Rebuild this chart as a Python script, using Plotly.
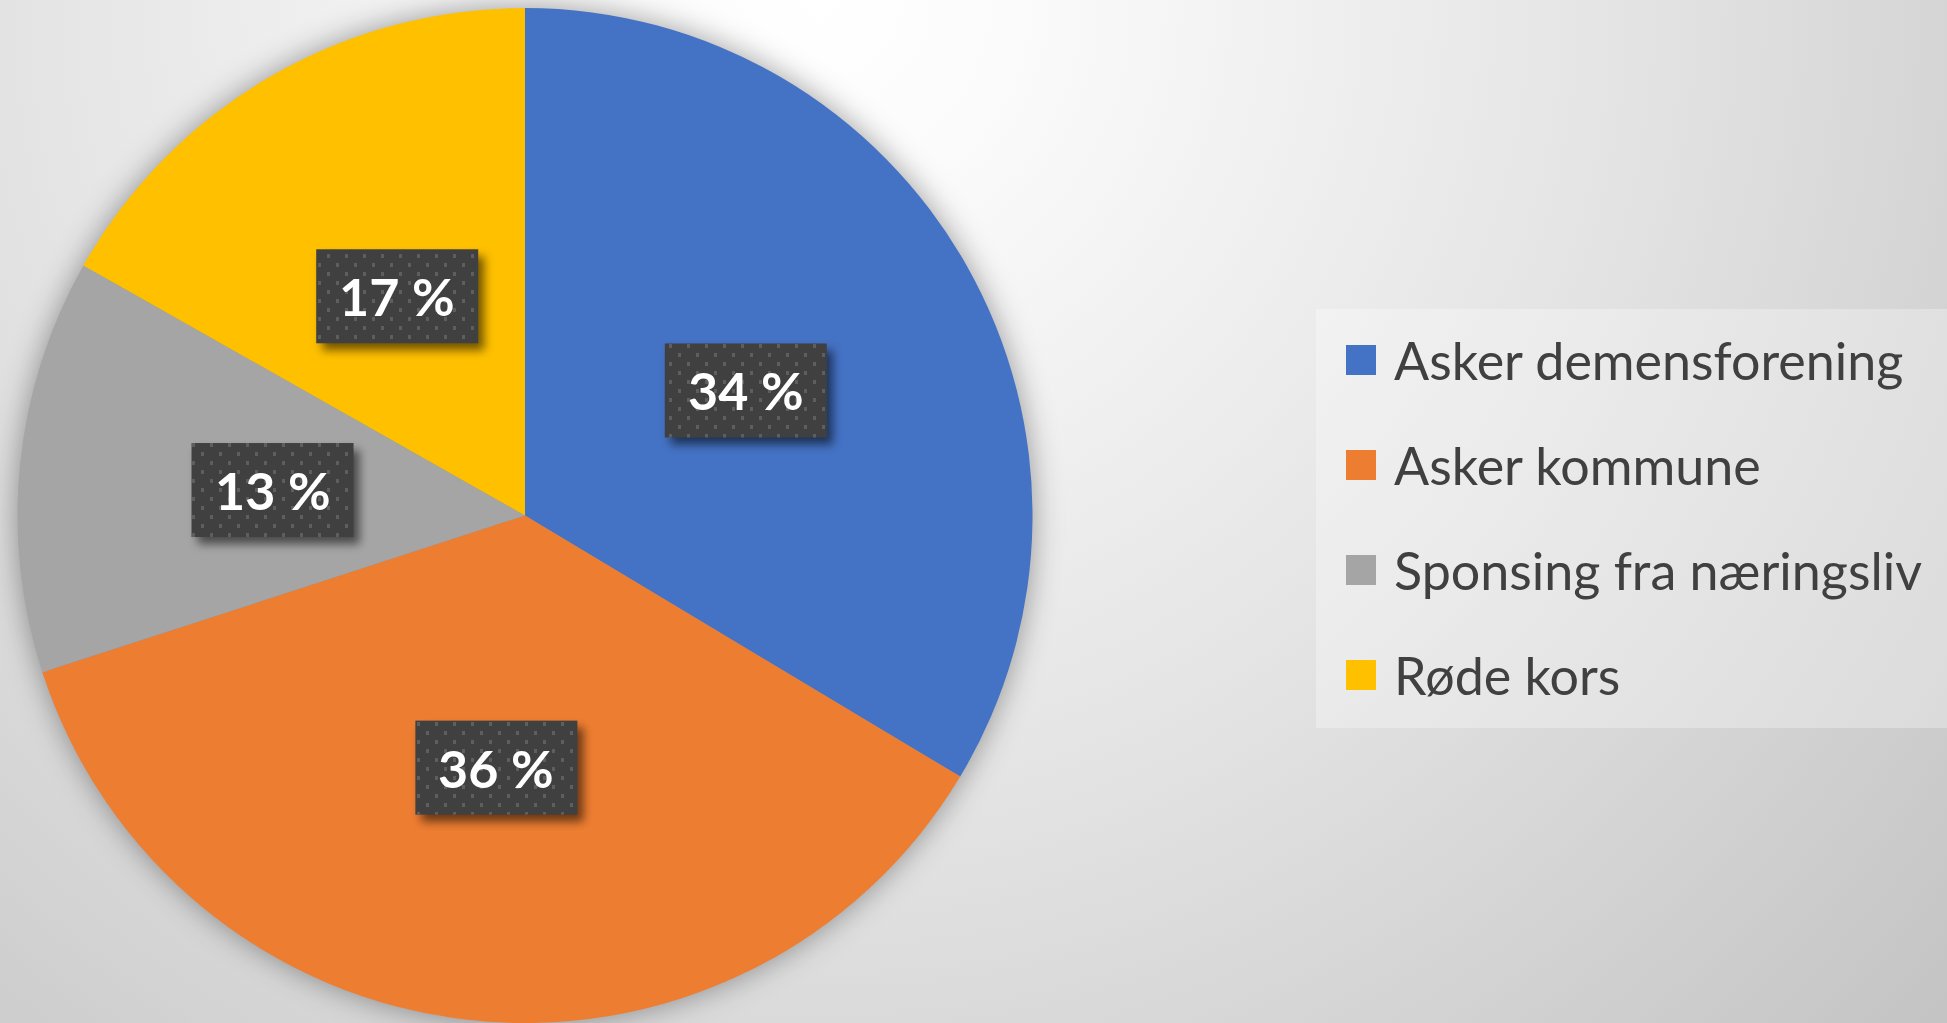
import base64
import math
import plotly.graph_objects as go

# ---- data ----
labels = ["Asker demensforening", "Asker kommune", "Sponsing fra næringsliv", "Røde kors"]
values = [33.6, 36.4, 13.2, 16.8]
colors = ["#4472C4", "#ED7D31", "#A5A5A5", "#FFC000"]

# ---- layout constants ----
W, H = 1947, 1023
TOP = 8
PIE_W = 1050
R = min(PIE_W, H - TOP) / 2.0
CX = PIE_W / 2.0
CY = TOP + R
BOX_W, BOX_H = 162, 94
LEG_X0, LEG_Y0, LEG_X1, LEG_Y1 = 1316, 309, 1947, 728
LEG_SQ_X, LEG_SQ = 1346, 30
LEG_TXT_X = 1392
LEG_Y_FIRST, LEG_STEP = 360, 105

total = sum(values)
pct_text = [f"{round(v / total * 100)} %" for v in values]

# label centres (pixels) at half radius on slice mid-angle, clockwise from 12 o'clock
label_px = []
cum = 0.0
for v in values:
    mid = (cum + v / 2.0) / total
    th = 2 * math.pi * mid
    label_px.append((CX + 0.5 * R * math.sin(th), CY - 0.5 * R * math.cos(th)))
    cum += v


def svg_uri(svg):
    return "data:image/svg+xml;base64," + base64.b64encode(svg.encode("utf-8")).decode("ascii")


bg_svg = f"""<svg xmlns='http://www.w3.org/2000/svg' width='{W}' height='{H}' viewBox='0 0 {W} {H}'>
<defs>
<radialGradient id='bg' gradientUnits='userSpaceOnUse' cx='820' cy='0' r='1600'>
<stop offset='0' stop-color='#ffffff'/>
<stop offset='0.12' stop-color='#fbfbfb'/>
<stop offset='0.5' stop-color='#e4e4e4'/>
<stop offset='1' stop-color='#c0c0c0'/>
</radialGradient>
<filter id='blur' x='-20%' y='-20%' width='140%' height='140%'><feGaussianBlur stdDeviation='15'/></filter>
</defs>
<rect x='0' y='0' width='{W}' height='{H}' fill='url(#bg)'/>
<circle cx='{CX}' cy='{CY}' r='{R}' fill='#000000' fill-opacity='0.38' filter='url(#blur)'/>
<rect x='{LEG_X0}' y='{LEG_Y0}' width='{LEG_X1 - LEG_X0}' height='{LEG_Y1 - LEG_Y0}' fill='#ffffff' fill-opacity='0.3'/>
</svg>"""

boxes = ""
for (lx, ly) in label_px:
    x0, y0 = lx - BOX_W / 2, ly - BOX_H / 2
    boxes += (f"<rect x='{x0 + 6}' y='{y0 + 7}' width='{BOX_W}' height='{BOX_H}' fill='#000' fill-opacity='0.55' filter='url(#sh)'/>"
              f"<rect x='{x0}' y='{y0}' width='{BOX_W}' height='{BOX_H}' fill='#404040'/>"
              f"<rect x='{x0}' y='{y0}' width='{BOX_W}' height='{BOX_H}' fill='url(#dots)'/>")

fg_svg = f"""<svg xmlns='http://www.w3.org/2000/svg' width='{W}' height='{H}' viewBox='0 0 {W} {H}'>
<defs>
<pattern id='dots' patternUnits='userSpaceOnUse' width='18' height='18'>
<rect x='3' y='2' width='3' height='4' fill='#5e5e5e'/>
<rect x='12' y='11' width='3' height='4' fill='#5e5e5e'/>
</pattern>
<filter id='sh' x='-30%' y='-30%' width='160%' height='160%'><feGaussianBlur stdDeviation='5'/></filter>
</defs>
{boxes}
</svg>"""

fig = go.Figure(go.Pie(
    labels=labels,
    values=values,
    sort=False,
    direction="clockwise",
    rotation=0,
    marker=dict(colors=colors, line=dict(width=0)),
    textinfo="none",
    hoverinfo="label+percent",
    showlegend=False,
    domain=dict(x=[0, PIE_W / W], y=[0, 1 - TOP / H]),
))

annotations = []
for (lx, ly), t in zip(label_px, pct_text):
    annotations.append(dict(
        x=lx / W, y=1 - ly / H, xref="paper", yref="paper",
        xanchor="center", yanchor="middle", showarrow=False,
        text=f"<b>{t}</b>",
        font=dict(family="Lato", size=52, color="#ffffff"),
    ))

shapes = []
for i, (lab, col) in enumerate(zip(labels, colors)):
    yc = LEG_Y_FIRST + LEG_STEP * i
    shapes.append(dict(
        type="rect", xref="paper", yref="paper", layer="above",
        x0=LEG_SQ_X / W, x1=(LEG_SQ_X + LEG_SQ) / W,
        y0=1 - (yc - LEG_SQ / 2) / H, y1=1 - (yc + LEG_SQ / 2) / H,
        fillcolor=col, line=dict(width=0),
    ))
    annotations.append(dict(
        x=LEG_TXT_X / W, y=1 - yc / H, xref="paper", yref="paper",
        xanchor="left", yanchor="middle", showarrow=False,
        text=lab,
        font=dict(family="Lato", size=52, color="#404040"),
    ))

fig.update_layout(
    width=W, height=H,
    margin=dict(l=0, r=0, t=0, b=0),
    paper_bgcolor="#e0e0e0",
    plot_bgcolor="rgba(0,0,0,0)",
    showlegend=False,
    annotations=annotations,
    shapes=shapes,
    images=[
        dict(source=svg_uri(bg_svg), xref="paper", yref="paper", x=0, y=1,
             sizex=1, sizey=1, xanchor="left", yanchor="top",
             sizing="stretch", layer="below"),
        dict(source=svg_uri(fg_svg), xref="paper", yref="paper", x=0, y=1,
             sizex=1, sizey=1, xanchor="left", yanchor="top",
             sizing="stretch", layer="above"),
    ],
)

fig.write_html(
    "out.html",
    config={"displayModeBar": False},
    post_script="document.body.style.margin='0';document.body.style.overflow='hidden';",
)
